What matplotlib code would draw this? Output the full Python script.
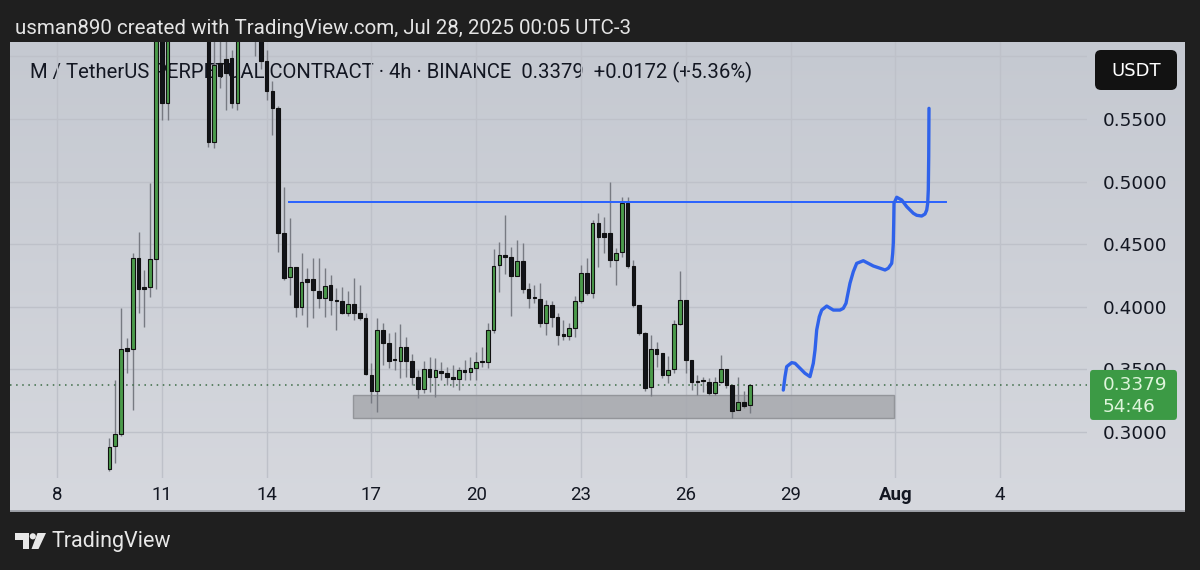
import matplotlib
matplotlib.use('Agg')
import matplotlib.pyplot as plt
import matplotlib.dates as mdates
import matplotlib.transforms as mtransforms
from matplotlib.patches import FancyBboxPatch, Polygon, Circle, Rectangle
import numpy as np
import pandas as pd

# ---------------- data (4h candles, M/USDT perpetual) ----------------
start_time = '2025-07-09 12:00'
opens = [0.2702, 0.2888, 0.2984, 0.3670, 0.3663, 0.4392, 0.4160, 0.4156, 0.4380, 0.6600,
         0.5630, 0.6400, 0.6800, 0.6600, 0.7000, 0.6700, 0.6900, 0.6600, 0.5320, 0.5950,
         0.5980, 0.5990, 0.5630, 0.6400, 0.6600, 0.6450, 0.6250, 0.5960, 0.5720, 0.5585,
         0.4587, 0.4236, 0.4320, 0.4000, 0.4225, 0.4220, 0.4129, 0.4068, 0.4174, 0.4056,
         0.4046, 0.3953, 0.4022, 0.3953, 0.3908, 0.3455, 0.3330, 0.3815, 0.3713, 0.3577,
         0.3570, 0.3676, 0.3570, 0.3442, 0.3340, 0.3503, 0.3442, 0.3490, 0.3475, 0.3437,
         0.3420, 0.3495, 0.3482, 0.3509, 0.3567, 0.3557, 0.3815, 0.4334, 0.4414, 0.4396,
         0.4246, 0.4368, 0.4140, 0.4075, 0.4060, 0.3868, 0.4012, 0.3922, 0.3783, 0.3770,
         0.3833, 0.4046, 0.4268, 0.4113, 0.4667, 0.4588, 0.4588, 0.4374, 0.4440, 0.4827,
         0.4327, 0.4014, 0.3788, 0.3357, 0.3661, 0.3629, 0.3455, 0.3501, 0.3863, 0.4054,
         0.3575, 0.3407, 0.3415, 0.3397, 0.3309, 0.3402, 0.3500, 0.3375, 0.3176, 0.3242,
         0.3216]
highs = [0.2950, 0.3415, 0.3988, 0.3748, 0.4430, 0.4600, 0.4294, 0.4986, 0.6700, 0.6800,
         0.6600, 0.7000, 0.7100, 0.7200, 0.7200, 0.7100, 0.7000, 0.6800, 0.6250, 0.6300,
         0.6250, 0.6050, 0.6500, 0.6800, 0.6700, 0.6500, 0.6400, 0.6050, 0.5800, 0.5600,
         0.4960, 0.4707, 0.4320, 0.4430, 0.4307, 0.4390, 0.4387, 0.4307, 0.4254, 0.4148,
         0.4156, 0.4128, 0.4228, 0.4174, 0.3948, 0.3549, 0.3908, 0.3868, 0.3794, 0.3800,
         0.3863, 0.3756, 0.3623, 0.3495, 0.3570, 0.3597, 0.3589, 0.3562, 0.3522, 0.3535,
         0.3522, 0.3575, 0.3602, 0.3642, 0.3676, 0.3873, 0.4459, 0.4520, 0.4733, 0.4476,
         0.4533, 0.4507, 0.4188, 0.4174, 0.4188, 0.4054, 0.4046, 0.3948, 0.3895, 0.3873,
         0.4086, 0.4334, 0.4387, 0.4693, 0.4747, 0.4720, 0.4999, 0.4467, 0.4875, 0.4875,
         0.4374, 0.4014, 0.3802, 0.3775, 0.3722, 0.3629, 0.3607, 0.3895, 0.4286, 0.4054,
         0.3575, 0.3455, 0.3442, 0.3429, 0.3442, 0.3615, 0.3500, 0.3375, 0.3437, 0.3330,
         0.3379]
lows = [0.2690, 0.2752, 0.2970, 0.3469, 0.3176, 0.3948, 0.3840, 0.4080, 0.4140, 0.5490,
        0.5490, 0.6300, 0.6400, 0.6500, 0.6500, 0.6600, 0.6400, 0.5280, 0.5270, 0.5750,
        0.5570, 0.5590, 0.5570, 0.6250, 0.6250, 0.6000, 0.5900, 0.5650, 0.5370, 0.4440,
        0.4214, 0.4094, 0.3916, 0.3935, 0.3840, 0.3910, 0.3988, 0.3917, 0.3935, 0.3815,
        0.3945, 0.3925, 0.3895, 0.3895, 0.3455, 0.3234, 0.3162, 0.3535, 0.3510, 0.3495,
        0.3429, 0.3442, 0.3375, 0.3270, 0.3310, 0.3322, 0.3282, 0.3415, 0.3375, 0.3362,
        0.3335, 0.3415, 0.3415, 0.3415, 0.3520, 0.3510, 0.3788, 0.4120, 0.4262, 0.3927,
        0.4246, 0.4108, 0.3988, 0.4033, 0.3837, 0.3775, 0.3837, 0.3695, 0.3735, 0.3735,
        0.3762, 0.4028, 0.4094, 0.4068, 0.4320, 0.4427, 0.4320, 0.4174, 0.4400, 0.4307,
        0.4000, 0.3775, 0.3330, 0.3288, 0.3522, 0.3430, 0.3389, 0.3475, 0.3855, 0.3469,
        0.3336, 0.3296, 0.3322, 0.3296, 0.3296, 0.3389, 0.3355, 0.3110, 0.3176, 0.3190,
        0.3150]
closes = [0.2883, 0.2984, 0.3663, 0.3650, 0.4392, 0.4140, 0.4140, 0.4380, 0.6500, 0.5630,
          0.6400, 0.6800, 0.6600, 0.7000, 0.6700, 0.6900, 0.6600, 0.5320, 0.5930, 0.5840,
          0.5865, 0.5630, 0.6400, 0.6600, 0.6450, 0.6250, 0.5960, 0.5720, 0.5585, 0.4587,
          0.4228, 0.4316, 0.3996, 0.4200, 0.4200, 0.4135, 0.4068, 0.4166, 0.4054, 0.4049,
          0.3953, 0.4022, 0.3953, 0.3908, 0.3463, 0.3330, 0.3815, 0.3713, 0.3570, 0.3573,
          0.3676, 0.3570, 0.3442, 0.3341, 0.3503, 0.3442, 0.3495, 0.3470, 0.3442, 0.3420,
          0.3495, 0.3482, 0.3509, 0.3562, 0.3562, 0.3815, 0.4328, 0.4414, 0.4396, 0.4246,
          0.4368, 0.4140, 0.4068, 0.4070, 0.3868, 0.4012, 0.3916, 0.3775, 0.3770, 0.3833,
          0.4046, 0.4268, 0.4113, 0.4667, 0.4560, 0.4560, 0.4374, 0.4427, 0.4827, 0.4327,
          0.4014, 0.3788, 0.3350, 0.3661, 0.3623, 0.3455, 0.3495, 0.3859, 0.4054, 0.3575,
          0.3397, 0.3397, 0.3405, 0.3309, 0.3397, 0.3500, 0.3375, 0.3170, 0.3242, 0.3208,
          0.3379]

last_price = 0.3379
countdown = '54:46'
price_ticks = [0.30, 0.35, 0.40, 0.45, 0.50, 0.55]
grid_prices = [0.30, 0.35, 0.40, 0.45, 0.50, 0.55, 0.60]
date_tick_days = [8, 11, 14, 17, 20, 23, 26, 29, 32, 35]     # days counted from Jul 1 (32 = Aug 1)
date_tick_labels = ['8', '11', '14', '17', '20', '23', '26', '29', 'Aug', '4']

# drawings
resistance_price = 0.4837
resistance_days = [14.64, 33.45]
zone_days = [16.47, 31.96]
zone_prices = [0.3112, 0.3296]
path_days = [28.793, 28.842, 28.890, 29.034, 29.128, 29.271, 29.414, 29.557, 29.652, 29.701,
             29.749, 29.824, 29.893, 30.036, 30.225, 30.416, 30.511, 30.588, 30.625, 30.702,
             30.797, 30.894, 31.083, 31.370, 31.562, 31.705, 31.799, 31.896, 31.925, 31.942,
             31.954, 31.963, 32.040, 32.183, 32.326, 32.515, 32.612, 32.755, 32.850, 32.899,
             32.927, 32.944, 32.956, 32.964]
path_prices = [0.3335, 0.3442, 0.3522, 0.3554, 0.3549, 0.3509, 0.3469, 0.3442, 0.3549, 0.3655,
               0.3815, 0.3921, 0.3974, 0.4006, 0.3974, 0.3974, 0.3988, 0.4028, 0.4081, 0.4188,
               0.4280, 0.4347, 0.4368, 0.4326, 0.4308, 0.4294, 0.4308, 0.4347, 0.4427, 0.4507,
               0.4667, 0.4827, 0.4875, 0.4853, 0.4800, 0.4747, 0.4731, 0.4725, 0.4741, 0.4773,
               0.4827, 0.4933, 0.5199, 0.5585]

header_text = 'usman890 created with TradingView.com, Jul 28, 2025 00:05 UTC-3'
title_text = 'M / TetherUS PERPETUAL CONTRACT \u00b7 4h \u00b7 BINANCE  0.3379  +0.0172 (+5.36%)'

# ---------------- figure layout ----------------
W, H = 1200, 570
fig = plt.figure(figsize=(W / 100, H / 100), dpi=100)
fig.patch.set_facecolor('#1f1f1f')

PL, PR, PT, PB = 10, 1087, 42, 478       # plot area (pixels)
PANEL_R, PANEL_B = 1185, 512
PX_PER_DAY = 34.93
PX_PER_UNIT = 1252.0

def frac_rect(x0, y0, x1, y1):
    return [x0 / W, 1 - y1 / H, (x1 - x0) / W, (y1 - y0) / H]

# background panel with gentle vertical gradient
bg = fig.add_axes(frac_rect(PL, PT, PANEL_R, PANEL_B))
bg.set_xlim(PL, PANEL_R)
bg.set_ylim(PANEL_B, PT)
bg.axis('off')
c_top = np.array([197, 201, 209]) / 255
c_bot = np.array([214, 216, 222]) / 255
g = np.linspace(0, 1, 200)[:, None]
grad = (c_top[None, None, :] * (1 - g[:, :, None]) + c_bot[None, None, :] * g[:, :, None])
bg.imshow(grad, extent=[PL, PANEL_R, PANEL_B, PT], aspect='auto', zorder=0)
bg.text(30, 72, title_text, fontsize=14.6, family=['Roboto', 'DejaVu Sans'],
        color='#131722', va='center', ha='left', zorder=2)
bg.plot([PL, PANEL_R], [PANEL_B - 1, PANEL_B - 1], color='#9a9da4', lw=2, zorder=3)

# main price axes
ax = fig.add_axes(frac_rect(PL, PT, PR, PB))
ax.set_facecolor('none')
base = mdates.date2num(pd.Timestamp('2025-07-01'))
def day_num(d):
    return base + np.asarray(d, dtype=float) - 1

x_left = day_num(8) - (57 - PL) / PX_PER_DAY
x_right = day_num(8) + (PR - 57) / PX_PER_DAY
y_top = 0.55 + (119 - PT) / PX_PER_UNIT
y_bot = y_top - (PB - PT) / PX_PER_UNIT
ax.set_xlim(x_left, x_right)
ax.set_ylim(y_bot, y_top)

times = pd.date_range(start_time, periods=len(opens), freq='4h')
t = mdates.date2num(times)
o = np.array(opens); h = np.array(highs); l = np.array(lows); c = np.array(closes)
up = c >= o

grid_c = '#bec1c9'
for p in grid_prices:
    ax.axhline(p, color=grid_c, lw=1, zorder=0)
for d in date_tick_days:
    ax.axvline(day_num(d), color=grid_c, lw=1, zorder=0)

ax.vlines(t, l, h, color='#777a82', lw=1.0, zorder=2)
body_w = 0.105
bottoms = np.minimum(o, c)
heights = np.maximum(np.abs(c - o), 0.0009)
ax.bar(t[up], heights[up], bottom=bottoms[up], width=body_w, color='#4b9b4b',
       edgecolor='#111111', linewidth=0.8, zorder=3)
ax.bar(t[~up], heights[~up], bottom=bottoms[~up], width=body_w, color='#121419',
       edgecolor='#111111', linewidth=0.8, zorder=3)

# drawings
ax.plot(day_num(resistance_days), [resistance_price] * 2, color='#2962ff', lw=1.4, zorder=4)
zx0, zx1 = day_num(zone_days)
ax.add_patch(Rectangle((zx0, zone_prices[0]), zx1 - zx0, zone_prices[1] - zone_prices[0],
                       facecolor='#a7a9ae', edgecolor='#8c8e93', lw=1.0, alpha=0.85, zorder=1))
ax.plot(day_num(path_days), path_prices, color='#2f62ea', lw=2.4,
        solid_joinstyle='round', solid_capstyle='round', zorder=5)

# last price dotted line
ax.axhline(last_price, color='#3b6b45', lw=1.1, ls=(0, (1, 3)), zorder=2)

# axes ticks
for s in ax.spines.values():
    s.set_visible(False)
ax.yaxis.tick_right()
ax.set_yticks(price_ticks)
ax.set_yticklabels(['%.4f' % p for p in price_ticks])
ax.tick_params(axis='y', length=0, pad=11.5, labelsize=13.2, labelcolor='#131722')
ax.set_xticks(day_num(date_tick_days))
ax.set_xticklabels(date_tick_labels)
ax.tick_params(axis='x', length=0, pad=6, labelsize=13.4, labelcolor='#131722')
for lab in ax.get_xticklabels():
    lab.set_family(['Roboto', 'DejaVu Sans'])
    if lab.get_text() == 'Aug':
        lab.set_fontweight('bold')

# last price label box
blend = mtransforms.blended_transform_factory(ax.transAxes, ax.transData)
bx0 = (1090 - PL) / (PR - PL)
bx1 = (1177 - PL) / (PR - PL)
box_top = last_price + 14.6 / PX_PER_UNIT
box_bot = last_price - 35.4 / PX_PER_UNIT
ax.add_patch(FancyBboxPatch((bx0, box_bot), bx1 - bx0, box_top - box_bot,
                            boxstyle='round,pad=0,rounding_size=0.003', transform=blend,
                            facecolor='#3c9a45', edgecolor='none', clip_on=False, zorder=10))
tx = (1103 - PL) / (PR - PL)
ax.text(tx, last_price, '%.4f' % last_price, transform=blend, fontsize=13.2,
        color='#dff5dc', va='center', ha='left', clip_on=False, zorder=11)
ax.text(tx, last_price - 22 / PX_PER_UNIT, countdown, transform=blend, fontsize=13.2,
        color='#dff5dc', va='center', ha='left', clip_on=False, zorder=11)

# overlay UI chrome (pixel coordinates)
ui = fig.add_axes([0, 0, 1, 1])
ui.set_xlim(0, W)
ui.set_ylim(H, 0)
ui.axis('off')
ui.patch.set_alpha(0)
ui.text(15, 28, header_text, fontsize=14.8, family=['Roboto', 'DejaVu Sans'],
        color='#e4e4e4', va='center', ha='left')
ui.add_patch(FancyBboxPatch((1095, 50), 82, 40, boxstyle='round,pad=0,rounding_size=6',
                            facecolor='#121212', edgecolor='none'))
ui.text(1136, 70.5, 'USDT', fontsize=13, color='white', ha='center', va='center')

# TradingView logo
ui.add_patch(Polygon([(15, 533), (29, 533), (29, 549), (23, 549), (23, 539.5), (15, 539.5)],
                     closed=True, facecolor='#e8e8e8', edgecolor='none'))
ui.add_patch(Circle((32.8, 536.3), 3.1, facecolor='#e8e8e8', edgecolor='none'))
ui.add_patch(Polygon([(37.5, 533), (46, 533), (38.5, 549), (31.5, 549)],
                     closed=True, facecolor='#e8e8e8', edgecolor='none'))
ui.text(52, 541, 'TradingView', fontsize=15.5, family=['Roboto', 'DejaVu Sans'],
        color='#e8e8e8', va='center', ha='left')

fig.savefig('out.png', dpi=100, facecolor=fig.get_facecolor())
